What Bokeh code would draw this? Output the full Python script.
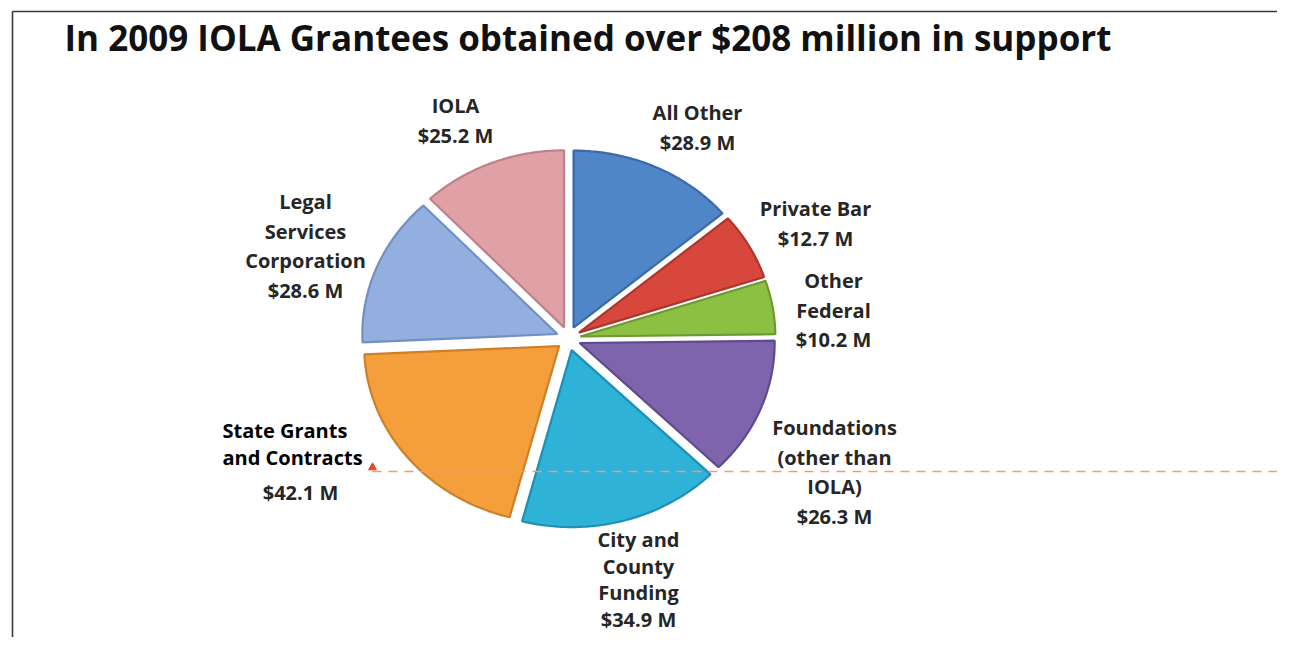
import numpy as np
from bokeh.plotting import figure
from bokeh.models import Range1d
from bokeh.core.properties import value
from bokeh.embed import file_html
from bokeh.resources import INLINE

# ---------------- data ----------------
title = "In 2009 IOLA Grantees obtained over $208 million in support"
categories = ["All Other", "Private Bar", "Other Federal",
              "Foundations (other than IOLA)", "City and County Funding",
              "State Grants and Contracts", "Legal Services Corporation", "IOLA"]
values = [28.9, 12.7, 10.2, 26.3, 34.9, 42.1, 28.6, 25.2]
label_lines = [
    ["All Other", "$28.9 M"],
    ["Private Bar", "$12.7 M"],
    ["Other", "Federal", "$10.2 M"],
    ["Foundations", "(other than", "IOLA)", "$26.3 M"],
    ["City and", "County", "Funding", "$34.9 M"],
    ["State Grants", "and Contracts"],
    ["Legal", "Services", "Corporation", "$28.6 M"],
    ["IOLA", "$25.2 M"],
]
state_value_label = "$42.1 M"

# ---------------- styles / layout ----------------
fill_colors = ["#4f86c8", "#d8473b", "#8cc043", "#7e63ad",
               "#2fb2d8", "#f59f3c", "#93afdf", "#e0a1a6"]
edge_colors = ["#3b6aa6", "#ad362c", "#6c9a30", "#5e4a8c",
               "#1f8fb2", "#cf7f26", "#7290c2", "#bf8189"]
W, H = 1277, 637
cx, cy = 568, 338          # pie centre (px, y down)
rx, ry = 195, 177          # elliptical radii
explode = 12
label_anchor = [(697, 112), (815, 208), (833, 280), (834, 427),
                (638, 539), (222, 430), (305, 201), (455, 105)]
label_gap = [29.5, 29.5, 29.5, 29.5, 26.5, 27.0, 29.5, 29.5]
label_align = ["center"] * 5 + ["left"] + ["center"] * 2

p = figure(width=W, height=H, x_range=Range1d(0, W), y_range=Range1d(H, 0),
           x_axis_type=None, y_axis_type=None, toolbar_location=None,
           output_backend="svg", min_border=0)
p.outline_line_color = None
p.grid.visible = False
p.background_fill_color = "white"

# frame lines
p.segment(x0=[12, 12], y0=[11, 11], x1=[W, 12], y1=[11, H],
          line_color="#3a3a3a", line_width=1.6)

# pie slices (clockwise from 12 o'clock)
total = sum(values)
cum = np.concatenate([[0.0], np.cumsum(values)]) / total * 2 * np.pi
xs, ys = [], []
for i in range(len(values)):
    t = np.linspace(cum[i], cum[i + 1], 80)
    m = 0.5 * (cum[i] + cum[i + 1])
    ox, oy = explode * np.sin(m), -explode * np.cos(m)
    x = np.concatenate([[cx + ox], cx + ox + rx * np.sin(t)])
    y = np.concatenate([[cy + oy], cy + oy - ry * np.cos(t)])
    xs.append(list(x))
    ys.append(list(y))
p.patches(xs, ys, fill_color=fill_colors, line_color=edge_colors, line_width=2.2)

# dashed guide line and marker
p.segment(x0=[372], y0=[471], x1=[W], y1=[471], line_color="#f29a72",
          line_width=1.5, line_dash="9 7")
p.scatter(x=[372], y=[467], marker="triangle", size=8, fill_color="#e8441f",
          line_color="#e8441f")

# title
p.text(x=[64], y=[37], text=[title], text_font=value("Open Sans"),
       text_font_style="bold", text_font_size="35px", text_color="#111111",
       text_align="left", text_baseline="middle")

# labels
for lines, (ax, ay), gap, al, cat in zip(label_lines, label_anchor, label_gap,
                                         label_align, categories):
    n = len(lines)
    is_state = cat.startswith("State")
    p.text(x=[ax] * n, y=[ay + k * gap for k in range(n)],
           text=lines, text_font=value("Open Sans"),
           text_font_style="bold", text_font_size="20px",
           text_color="#000000" if is_state else "#262626",
           text_align=al, text_baseline="middle")
p.text(x=[300], y=[492], text=[state_value_label], text_font=value("Open Sans"),
       text_font_style="bold", text_font_size="20px", text_color="#262626",
       text_align="center", text_baseline="middle")

open("out.html", "w").write(file_html(p, INLINE))
